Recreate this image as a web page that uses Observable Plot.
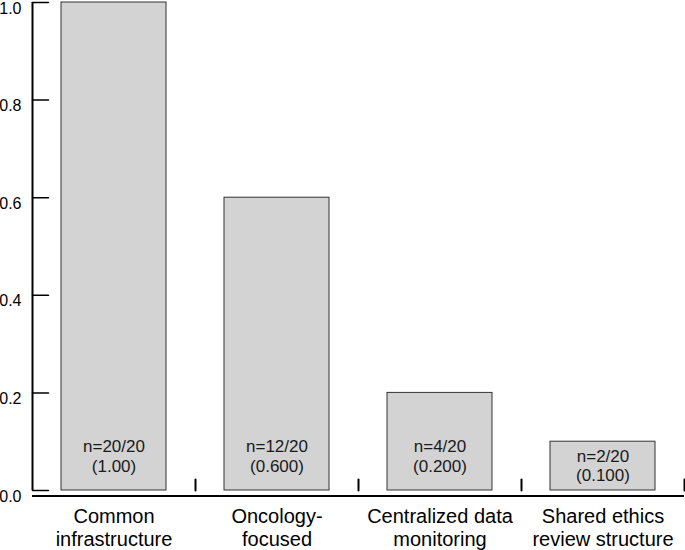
<!DOCTYPE html>
<html>
<head>
<meta charset="utf-8">
<script src="https://cdn.jsdelivr.net/npm/d3@7"></script>
<script src="https://cdn.jsdelivr.net/npm/@observablehq/plot@0.6"></script>
<style>
  html, body { margin: 0; padding: 0; background: #fff; }
  svg { display: block; }
</style>
</head>
<body>
<div id="chart"></div>
<script>
const categories = ["Common\ninfrastructure", "Oncology-\nfocused", "Centralized data\nmonitoring", "Shared ethics\nreview structure"];
const counts = [20, 12, 4, 2];
const total = 20;
const values = [1.0, 0.6, 0.2, 0.1];
const valueLabels = ["(1.00)", "(0.600)", "(0.200)", "(0.100)"];
const yTicks = [0, 0.2, 0.4, 0.6, 0.8, 1.0];

const data = categories.map((c, i) => ({cat: c, n: counts[i], value: values[i], label: valueLabels[i]}));

const W = 685, H = 550, ML = 32, MR = 1;
const step = (W - ML - MR) / categories.length;

const lineShape = {draw(context, l) { context.moveTo(0, 0); context.lineTo(0, -l); }};
const barText = d => `n=${d.n}/${total}\n${d.label}`;
const textOpts = {x: "cat", y: 0, text: barText, lineAnchor: "bottom", lineHeight: 1.12, fontSize: 17, fill: "#1a1a1a"};

const chart = Plot.plot({
  width: W,
  height: H,
  marginLeft: ML,
  marginRight: MR,
  marginTop: 2,
  marginBottom: 60,
  style: {fontFamily: "'Liberation Sans', Arial, sans-serif", color: "#000", background: "#fff"},
  x: {domain: categories, padding: 0, axis: null},
  y: {domain: [0, 1], axis: null},
  marks: [
    Plot.barY(data, {x: "cat", y: "value", insetLeft: 29, insetRight: 29, fill: "#d3d3d3", stroke: "#333", strokeWidth: 1}),
    // in-bar labels (taller bars)
    Plot.text(data.filter(d => d.value >= 0.15), {...textOpts, dy: -19}),
    // in-bar label for the shortest bar, sits lower
    Plot.text(data.filter(d => d.value < 0.15), {...textOpts, dy: -9.5}),
    // y tick labels
    Plot.text(yTicks, {x: () => categories[0], y: d => d, text: d => d3.format(".1f")(d), dx: -step / 2 - 11, dy: 6, textAnchor: "end", fontSize: 16, fill: "#000"}),
    // y tick marks pointing inward
    Plot.vector(yTicks, {x: () => categories[0], y: d => d, dx: -step / 2, rotate: 90, length: 16, anchor: "start", shape: lineShape, stroke: "#000", strokeWidth: 1.5}),
    // y axis line along the left edge of the first band
    Plot.ruleX([categories[0]], {y1: 0, y2: 1, dx: -step / 2, stroke: "#000", strokeWidth: 2}),
    // x axis line, offset below zero
    Plot.ruleY([0], {dy: 5.5, stroke: "#000", strokeWidth: 2}),
    // category labels
    Plot.axisX({tickSize: 0, tickPadding: 16, fontSize: 20, lineHeight: 1.15, label: null, fill: "#000"}),
    // separator ticks at band boundaries
    Plot.vector(data, {x: "cat", y: 0, dx: step / 2, length: 11, anchor: "start", shape: lineShape, stroke: "#000", strokeWidth: 2})
  ]
});

document.getElementById("chart").append(chart);
</script>
</body>
</html>
